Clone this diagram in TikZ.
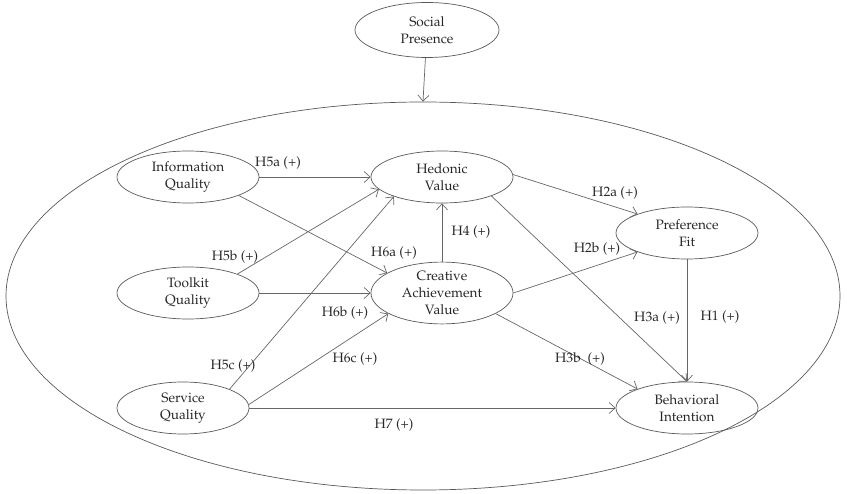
\documentclass[tikz,border=0pt]{standalone}
\usepackage[T1]{fontenc}
\usepackage{mathpazo}
\usetikzlibrary{shapes.geometric,arrows.meta}

\begin{document}
\begin{tikzpicture}[x=1pt,y=-1pt,
  every node/.style={font=\fontsize{13.6}{17}\selectfont,text=black!85},
  construct/.style={ellipse,draw=black!65,line width=0.7pt,inner sep=0pt,
    minimum width=142pt,minimum height=52pt,align=center},
  path/.style={draw=black!60,line width=0.7pt,
    -{Straight Barb[length=6pt,width=11pt,line width=0.7pt]}},
  hyp/.style={inner sep=1pt}]
\useasboundingbox (0,0) rectangle (847,494);

% outer context ellipse
\node[ellipse,draw=black!65,line width=0.7pt,minimum width=834pt,minimum height=388pt,inner sep=0pt] (ctx) at (423,296) {};

% constructs
\node[construct,minimum width=144pt,minimum height=55pt] (sp) at (427,30) {Social\\Presence};
\node[construct] (iq) at (188,177) {Information\\Quality};
\node[construct] (tq) at (188,293) {Toolkit\\Quality};
\node[construct,minimum width=132pt] (sq) at (183,408) {Service\\Quality};
\node[construct] (hv) at (442,177) {Hedonic\\Value};
\node[construct] (cav) at (442,293) {Creative\\Achievement\\Value};
\node[construct] (pf) at (687,233) {Preference\\Fit};
\node[construct] (bi) at (687,408) {Behavioral\\Intention};

% paths
\draw[path] (sp) -- (ctx.north);
\draw[path] (iq.east) -- (hv.west);
\draw[path] (iq.-20) -- (cav.160);
\draw[path] (tq.21) -- (hv.-169);
\draw[path] (tq.east) -- (cav.west);
\draw[path] (sq.22) -- (hv.-158);
\draw[path] (sq.3) -- (cav.-159);
\draw[path] (sq.east) -- (bi.west);
\draw[path] (hv.2) -- (pf.159);
\draw[path] (cav.east) -- (pf.-159);
\draw[path] (hv.-21) -- (bi.north);
\draw[path] (pf.south) -- (bi.north);
\draw[path] (cav.-21) -- (bi.159);
\draw[path] (cav.north) -- (hv.south);

% hypothesis labels
\node[hyp] (l5a) at (278,163) {H5a (+)};
\node[hyp] (l5b) at (235,257) {H5b (+)};
\node[hyp] (l6a) at (394,253) {H6a (+)};
\node[hyp] (l6b) at (345,313) {H6b (+)};
\node[hyp] (l5c) at (233,366) {H5c (+)};
\node[hyp] (l6c) at (355,359) {H6c (+)};
\node[hyp] (l7) at (394,425) {H7 (+)};
\node[hyp] (l3b) at (580,359) {H3b\ \ (+)};
\node[hyp] (l4) at (471,232) {H4 (+)};
\node[hyp] (l2a) at (615,193) {H2a (+)};
\node[hyp] (l2b) at (597,249) {H2b (+)};
\node[hyp] (l3a) at (657,318) {H3a (+)};
\node[hyp] (l1) at (720,317) {H1 (+)};
\end{tikzpicture}
\end{document}
